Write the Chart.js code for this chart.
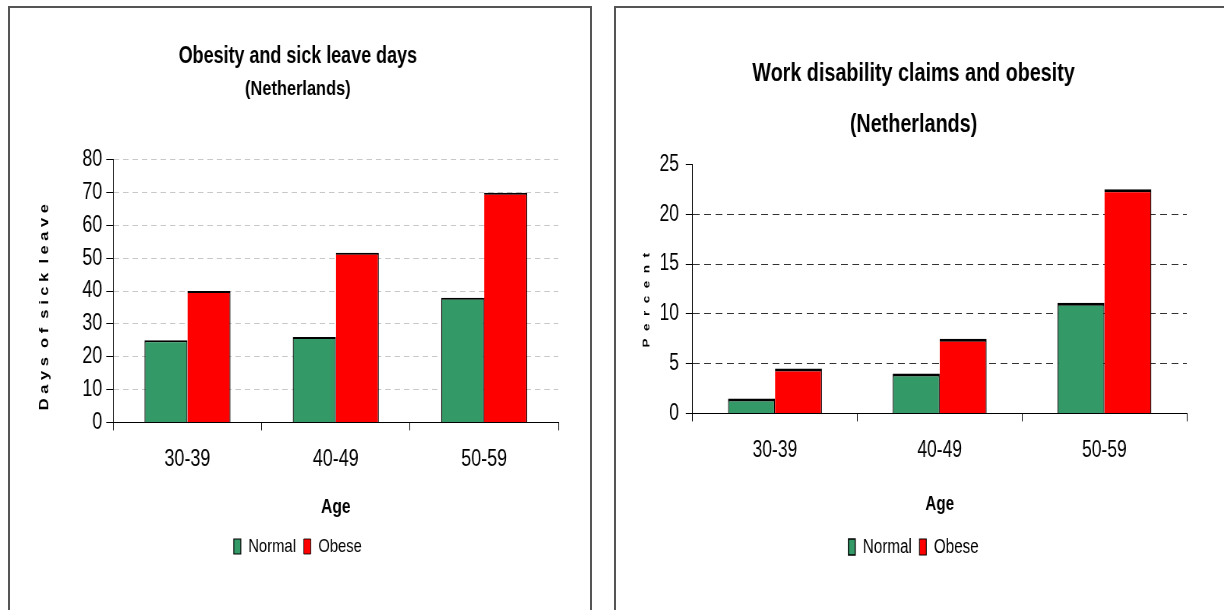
<!DOCTYPE html>
<html>
<head>
<meta charset="utf-8">
<title>Obesity, sick leave and work disability</title>
<script src="https://cdn.jsdelivr.net/npm/chart.js@4.4.1/dist/chart.umd.min.js"></script>
<style>
  body { margin: 0; background: #fff; width: 1224px; height: 610px; overflow: hidden; position: relative; }
  .panel { position: absolute; top: 6px; height: 640px; border: 2px solid #555; background: #fff; overflow: hidden; }
  #sick-panel { left: 8px; width: 580px; }
  #claims-panel { left: 614px; width: 620px; }
  /* charts are drawn wide and squeezed sideways to get the narrow lettering */
  .squeeze { transform-origin: 0 0; height: 600px; }
  #sick-wrap { width: 744px; transform: scaleX(0.78); }
  #claims-wrap { width: 816px; transform: scaleX(0.76); }
</style>
</head>
<body>
<div class="panel" id="sick-panel"><div class="squeeze" id="sick-wrap"><canvas id="sick-chart"></canvas></div></div>
<div class="panel" id="claims-panel"><div class="squeeze" id="claims-wrap"><canvas id="claims-chart"></canvas></div></div>
<script>
const ageGroups = ['30-39', '40-49', '50-59'];
const seriesNames = ['Normal', 'Obese'];

// days of sick leave per year
const sickLeaveNormal = [25, 26, 38];
const sickLeaveObese = [40, 51.7, 70];

// work disability claims, percent
const claimsNormal = [1.5, 4, 11.1];
const claimsObese = [4.5, 7.5, 22.5];

const GREEN = '#339966';
const RED = '#ff0000';
const TICK_FONT = { size: 23 };

Chart.defaults.font.family = "'Liberation Sans', Arial, sans-serif";
Chart.defaults.color = '#000';
Chart.defaults.animation = false;

function makeDatasets(normal, obese, topWidth) {
    return [{
        label: seriesNames[0],
        data: normal,
        backgroundColor: GREEN,
        borderColor: '#000',
        borderWidth: { top: topWidth, left: 1.3, right: 1.3, bottom: 0 },
        borderSkipped: 'start'
    }, {
        label: seriesNames[1],
        data: obese,
        backgroundColor: RED,
        borderColor: '#000',
        borderWidth: { top: topWidth, left: 0, right: 1.3, bottom: 0 },
        borderSkipped: 'start'
    }];
}

function xAxis(labelPad, titlePad) {
    return {
        grid: { display: true, drawOnChartArea: false, drawTicks: true, tickLength: 8, tickColor: '#000', offset: true },
        border: { display: true, color: '#000', width: 1, z: 1 },
        ticks: { padding: labelPad, font: TICK_FONT },
        title: { display: true, text: 'Age', font: { size: 20, weight: 'bold' }, padding: titlePad }
    };
}

// left: sick leave days
new Chart(document.getElementById('sick-chart'), {
    type: 'bar',
    data: { labels: ageGroups, datasets: makeDatasets(sickLeaveNormal, sickLeaveObese, 2) },
    options: {
        responsive: true,
        maintainAspectRatio: false,
        categoryPercentage: 0.58,
        barPercentage: 1,
        layout: { padding: { left: 35, right: 41, top: 0, bottom: 42 } },
        scales: {
            x: xAxis(15, { top: 7, bottom: 8 }),
            y: {
                min: 0,
                max: 80,
                ticks: { stepSize: 10, padding: 5, font: TICK_FONT },
                grid: { color: '#c8c8c8', tickColor: '#000', tickLength: 9 },
                border: { display: true, color: '#000', width: 1, dash: [7, 5], z: 1 },
                title: {
                    display: true,
                    // trailing blanks push the lettering a little below centre
                    text: 'D a y s  o f  s i c k  l e a v e       ',
                    font: { size: 16.5, weight: 'bold' },
                    padding: { top: 0, bottom: 33 }
                }
            }
        },
        plugins: {
            title: {
                display: true,
                text: 'Obesity and sick leave days',
                font: { size: 23, weight: 'bold' },
                padding: { top: 35, bottom: 0 }
            },
            subtitle: {
                display: true,
                text: '(Netherlands)',
                font: { size: 21, weight: 'bold' },
                padding: { top: 6, bottom: 58 }
            },
            legend: {
                position: 'bottom',
                labels: { boxWidth: 9, boxHeight: 15, padding: 10, font: { size: 19 } }
            },
            tooltip: { enabled: false }
        }
    }
});

// right: work disability claims
new Chart(document.getElementById('claims-chart'), {
    type: 'bar',
    data: { labels: ageGroups, datasets: makeDatasets(claimsNormal, claimsObese, 3) },
    options: {
        responsive: true,
        maintainAspectRatio: false,
        categoryPercentage: 0.57,
        barPercentage: 1,
        layout: { padding: { left: 32, right: 65, top: 0, bottom: 41 } },
        scales: {
            x: xAxis(15, { top: 13, bottom: 11 }),
            y: {
                min: 0,
                max: 25,
                ticks: { stepSize: 5, padding: 9, font: TICK_FONT },
                grid: {
                    color: ctx => (ctx.tick && (ctx.tick.value === 0 || ctx.tick.value === 25)) ? 'rgba(0,0,0,0)' : '#333',
                    tickColor: '#000',
                    tickLength: 9
                },
                border: { display: true, color: '#000', width: 1, dash: [9, 6], z: 1 },
                title: {
                    display: true,
                    text: 'P  e  r  c  e  n  t      ',
                    font: { size: 13.5, weight: 'bold' },
                    padding: { top: 0, bottom: 0 }
                }
            }
        },
        plugins: {
            title: {
                display: true,
                text: 'Work disability claims and obesity',
                font: { size: 26, weight: 'bold' },
                padding: { top: 50, bottom: 0 }
            },
            subtitle: {
                display: true,
                text: '(Netherlands)',
                font: { size: 26, weight: 'bold' },
                padding: { top: 20, bottom: 24 }
            },
            legend: {
                position: 'bottom',
                labels: { boxWidth: 9, boxHeight: 16, padding: 10, font: { size: 20 } }
            },
            tooltip: { enabled: false }
        }
    }
});
</script>
</body>
</html>
